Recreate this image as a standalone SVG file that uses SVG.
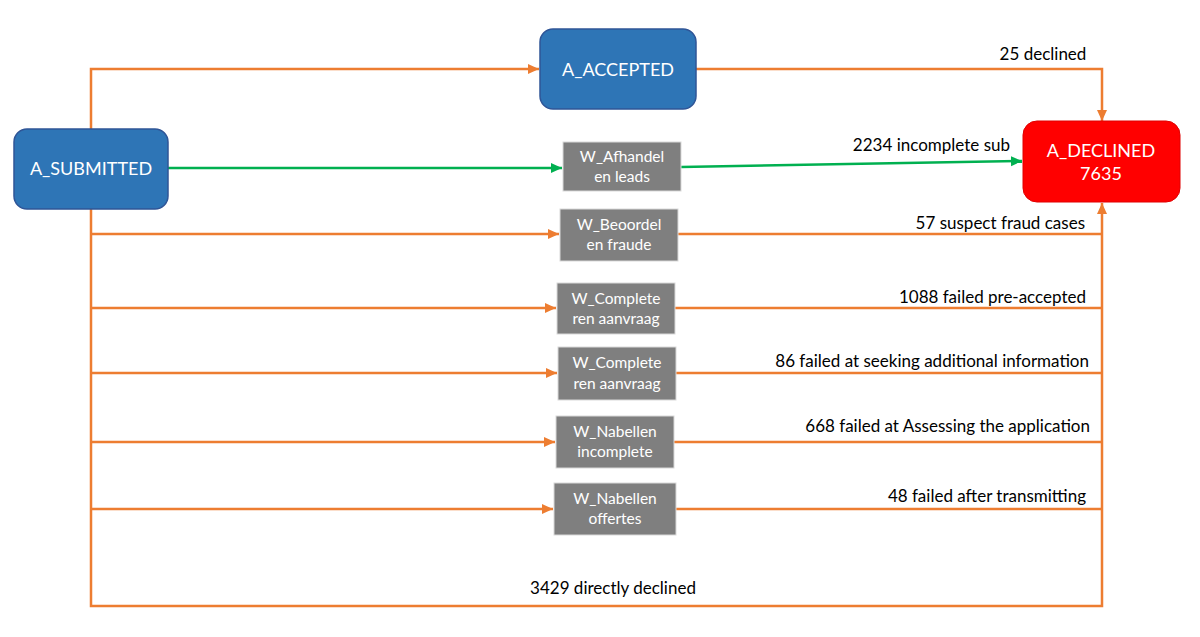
<svg xmlns="http://www.w3.org/2000/svg" width="1200" height="637" viewBox="0 0 1200 637">
<style>
.blue{fill:#2E75B6;stroke:#2F5597;stroke-width:1.5}
.red{fill:#FF0000;stroke:#E00000;stroke-width:1}
.gray{fill:#7F7F7F;stroke:#D9D9D9;stroke-width:1}
.big{font-family:Lato,"Liberation Sans",sans-serif;font-size:18px;fill:#fff;text-anchor:middle}
.small{font-family:Lato,"Liberation Sans",sans-serif;font-size:15.5px;fill:#fff;text-anchor:middle}
.lbl{font-family:Lato,"Liberation Sans",sans-serif;font-size:17px;fill:#000}
.or{fill:none;stroke:#ED7D31;stroke-width:2.5}
.gr{fill:none;stroke:#00B050;stroke-width:2.5}
</style>
<defs>
<marker id="ao" markerUnits="userSpaceOnUse" markerWidth="12" markerHeight="12" refX="11" refY="5" orient="auto"><path d="M0,0 L11,5 L0,10 Z" fill="#ED7D31"/></marker>
<marker id="ag" markerUnits="userSpaceOnUse" markerWidth="12" markerHeight="12" refX="11" refY="5" orient="auto"><path d="M0,0 L11,5 L0,10 Z" fill="#00B050"/></marker>
</defs>
<rect width="1200" height="637" fill="#fff"/>
<g id="connectors">
<path class="or" d="M91,129 V69 H539" marker-end="url(#ao)"/>
<path class="or" d="M696,69 H1102 V121" marker-end="url(#ao)"/>
<path class="or" d="M91,209 V606 H1102 V203" marker-end="url(#ao)"/>
<path class="gr" d="M168,168 H562" marker-end="url(#ag)"/>
<path class="gr" d="M681,167 L1022,161" marker-end="url(#ag)"/>
<path class="or" d="M91,234 H559" marker-end="url(#ao)"/>
<path class="or" d="M678,234 H1102"/>
<path class="or" d="M91,308 H556" marker-end="url(#ao)"/>
<path class="or" d="M675,308 H1102"/>
<path class="or" d="M91,373 H557" marker-end="url(#ao)"/>
<path class="or" d="M676,373 H1102"/>
<path class="or" d="M91,442 H555" marker-end="url(#ao)"/>
<path class="or" d="M674,442 H1102"/>
<path class="or" d="M91,509 H553" marker-end="url(#ao)"/>
<path class="or" d="M676,509 H1102"/>
<text class="lbl" x="1043" y="60" text-anchor="middle">25 declined</text>
<text class="lbl" x="1010" y="151" text-anchor="end">2234 incomplete sub</text>
<text class="lbl" x="1085" y="229" text-anchor="end">57 suspect fraud cases</text>
<text class="lbl" x="1086" y="303" text-anchor="end">1088 failed pre-accepted</text>
<text class="lbl" x="1089" y="367" text-anchor="end">86 failed at seeking additional information</text>
<text class="lbl" x="1090" y="432" text-anchor="end">668 failed at Assessing the application</text>
<text class="lbl" x="1086" y="502" text-anchor="end">48 failed after transmitting</text>
<text class="lbl" x="613" y="594" text-anchor="middle">3429 directly declined</text>
</g>
<g id="A_SUBMITTED"><rect class="blue" x="14" y="129" width="154" height="80" rx="13"/><text class="big" x="91" y="175">A_SUBMITTED</text></g>
<g id="A_ACCEPTED"><rect class="blue" x="540" y="29" width="156" height="80" rx="13"/><text class="big" x="618" y="76">A_ACCEPTED</text></g>
<g id="A_DECLINED"><rect class="red" x="1023" y="121" width="157" height="81" rx="14"/><text class="big" x="1101" y="157">A_DECLINED</text><text class="big" x="1101" y="180">7635</text></g>
<g id="W_Afhandelen"><rect class="gray" x="563" y="142" width="118" height="49"/><text class="small" x="622" y="162">W_Afhandel</text><text class="small" x="622" y="182">en leads</text></g>
<g id="W_Beoordelen"><rect class="gray" x="560" y="209" width="118" height="52"/><text class="small" x="619" y="230">W_Beoordel</text><text class="small" x="619" y="250">en fraude</text></g>
<g id="W_Completeren1"><rect class="gray" x="557" y="283" width="118" height="51"/><text class="small" x="616" y="304">W_Complete</text><text class="small" x="616" y="324">ren aanvraag</text></g>
<g id="W_Completeren2"><rect class="gray" x="558" y="347" width="118" height="53"/><text class="small" x="617" y="368">W_Complete</text><text class="small" x="617" y="389">ren aanvraag</text></g>
<g id="W_Nabellen_incomplete"><rect class="gray" x="556" y="416" width="118" height="52"/><text class="small" x="615" y="437">W_Nabellen</text><text class="small" x="615" y="457">incomplete</text></g>
<g id="W_Nabellen_offertes"><rect class="gray" x="554" y="483" width="122" height="52"/><text class="small" x="615" y="504">W_Nabellen</text><text class="small" x="615" y="524">offertes</text></g>
</svg>
